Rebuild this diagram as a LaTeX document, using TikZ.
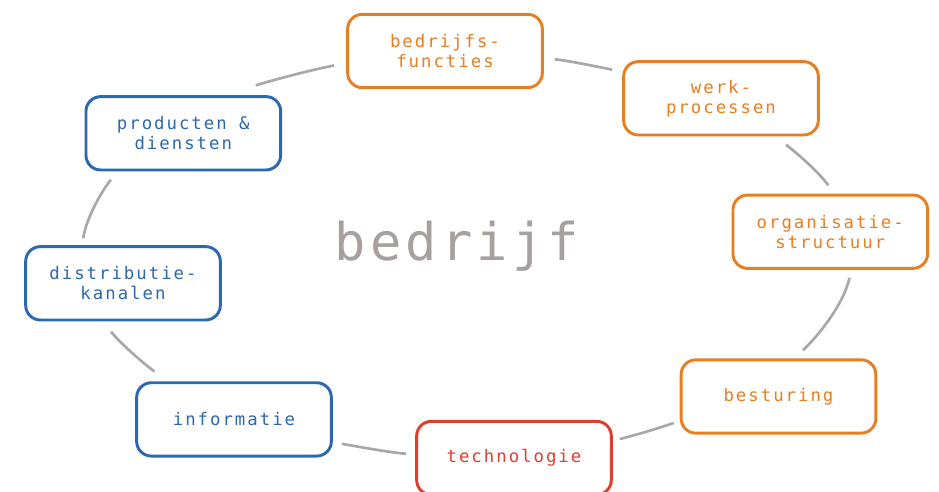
\documentclass[tikz,border=0pt]{standalone}
\usepackage{fontspec}
\newfontfamily\boxfont{DejaVu Sans Mono}[LetterSpace=11.5]
\newfontfamily\corefont{DejaVu Sans Mono}[LetterSpace=8]
\usetikzlibrary{positioning}
\definecolor{orangeC}{RGB}{231,126,34}
\definecolor{blueC}{RGB}{44,104,176}
\definecolor{redC}{RGB}{224,62,45}
\definecolor{ringgray}{RGB}{170,168,166}
\definecolor{coregray}{RGB}{166,161,158}
\tikzstyle{area_box} = [rectangle, rounded corners=11pt, minimum width=146pt, minimum height=55pt, line width=2.2pt, fill=white, align=center, font=\boxfont\fontsize{13}{15}\selectfont]
\tikzstyle{org_box} = [area_box, draw=orangeC, text=orangeC]
\tikzstyle{tech_box} = [area_box, draw=redC, text=redC]
\tikzstyle{market_box} = [area_box, draw=blueC, text=blueC]
\tikzstyle{core_label} = [anchor=base, text=coregray, font=\corefont\fontsize{39}{45}\selectfont]
\tikzstyle{cycle_arc} = [line width=2pt, draw=ringgray, looseness=0.85]

\begin{document}
\begin{tikzpicture}[x=0.75pt, y=0.75pt]
\useasboundingbox (0,0) rectangle (939,-492);
\node (kern) [core_label] at (457,-260) {bedrijf};
\node (functies) [org_box] at (445,-51) {bedrijfs-\\functies};
\node (processen) [org_box] at (721,-98.3) {werk-\\processen};
\node (structuur) [org_box] at (830.3,-231.7) {organisatie-\\structuur};
\node (besturing) [org_box] at (778.5,-396.5) {besturing};
\node (technologie) [tech_box] at (514,-458) {technologie};
\node (informatie) [market_box] at (234,-419.4) {informatie};
\node (distributie) [market_box] at (123,-283.3) {distributie-\\kanalen};
\node (producten) [market_box] at (183.3,-133.3) {producten \&\\diensten};

% bogen tussen de onderdelen, samen een ellips rond het bedrijf
\draw [cycle_arc, shorten <=23.7pt, shorten >=9.2pt] (producten.42) to[out=18, in=191] (functies.187);
\draw [cycle_arc, shorten <=8.3pt, shorten >=7.7pt] (functies.-4) to[out=-7, in=168] (processen.165);
\draw [cycle_arc, shorten <=10.1pt, shorten >=7.7pt] (processen.-35) to[out=-38, in=126] (structuur.84);
\draw [cycle_arc, shorten <=6.2pt, shorten >=8.7pt] (structuur.-61) to[out=-103, in=44] (besturing.67);
\draw [cycle_arc, shorten <=4.7pt, shorten >=5.4pt] (besturing.194) to[out=198, in=13] (technologie.10);
\draw [cycle_arc, shorten <=6.8pt, shorten >=6.9pt] (technologie.178) to[out=175, in=-10] (informatie.-13);
\draw [cycle_arc, shorten <=12.5pt, shorten >=9.9pt] (informatie.150) to[out=144, in=-51] (distributie.242);
\draw [cycle_arc, shorten <=5.3pt, shorten >=7.9pt] (distributie.137) to[out=81, in=232] (producten.210);
\end{tikzpicture}
\end{document}
